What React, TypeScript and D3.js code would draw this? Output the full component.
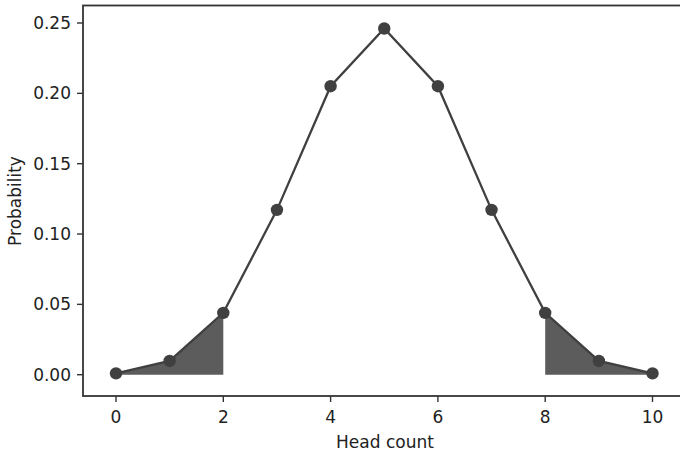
import React from "react";
import * as d3 from "d3";

const headCounts = [0, 1, 2, 3, 4, 5, 6, 7, 8, 9, 10];
const probabilities = [0.000977, 0.009766, 0.043945, 0.117188, 0.205078, 0.246094, 0.205078, 0.117188, 0.043945, 0.009766, 0.000977];
const xTicks = [0, 2, 4, 6, 8, 10];
const yTicks = [0, 0.05, 0.1, 0.15, 0.2, 0.25];
const leftTail = [0, 1, 2];
const rightTail = [8, 9, 10];

export default function App() {
  const W = 680, H = 453;
  const left = 83, right = 687, top = 5.5, bottom = 396;
  const x = d3.scaleLinear().domain([0, 10]).range([116, 652.5]);
  const y = d3.scaleLinear().domain([0, 0.25]).range([374.7, 23]);
  const line = d3.line<number>().x((d) => x(d)).y((d) => y(probabilities[d]));
  const area = d3.area<number>().x((d) => x(d)).y0(y(0)).y1((d) => y(probabilities[d]));
  const font = "DejaVu Sans, sans-serif";
  const col = "#404040";
  return (
    <svg width={W} height={H} style={{ position: "absolute", left: 0, top: 0, background: "#fff" }}>
      <path d={area(leftTail) || ""} fill="#5c5c5c" />
      <path d={area(rightTail) || ""} fill="#5c5c5c" />
      <path d={line(headCounts) || ""} fill="none" stroke={col} strokeWidth={2.3} />
      {headCounts.map((d) => (
        <circle key={d} cx={x(d)} cy={y(probabilities[d])} r={6.2} fill={col} />
      ))}
      <rect x={left} y={top} width={right - left} height={bottom - top} fill="none" stroke="#333" strokeWidth={1.8} />
      {xTicks.map((t) => (
        <g key={t}>
          <line x1={x(t)} x2={x(t)} y1={bottom} y2={bottom + 6} stroke="#333" strokeWidth={1.4} />
          <text x={x(t)} y={bottom + 27} textAnchor="middle" fontFamily={font} fontSize={17} fill="#222">{t}</text>
        </g>
      ))}
      {yTicks.map((t) => (
        <g key={t}>
          <line x1={left - 6} x2={left} y1={y(t)} y2={y(t)} stroke="#333" strokeWidth={1.4} />
          <text x={left - 12} y={y(t) + 6} textAnchor="end" fontFamily={font} fontSize={17} fill="#222">{t.toFixed(2)}</text>
        </g>
      ))}
      <text x={385} y={448} textAnchor="middle" fontFamily={font} fontSize={17} fill="#222">Head count</text>
      <text transform={`translate(21,201) rotate(-90)`} textAnchor="middle" fontFamily={font} fontSize={17} fill="#222">Probability</text>
    </svg>
  );
}
